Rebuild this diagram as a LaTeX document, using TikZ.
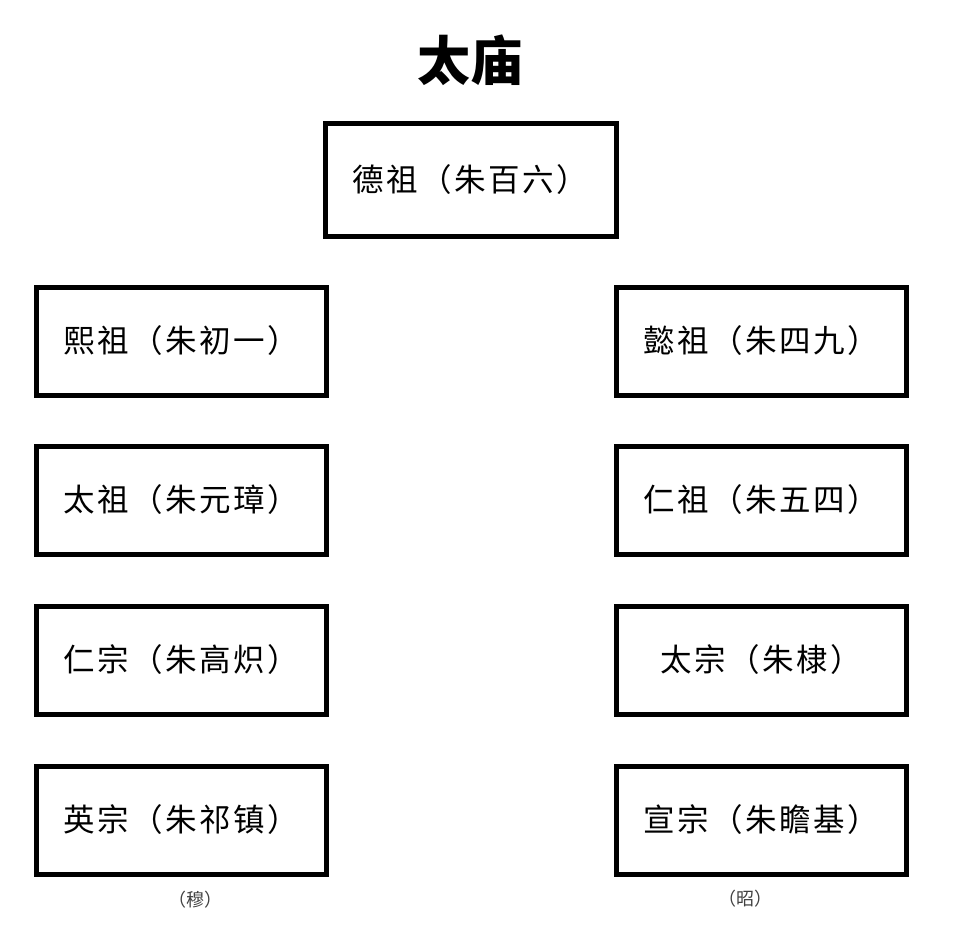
\documentclass[tikz,border=0pt]{standalone}
\usepackage{fontspec}
\newfontfamily\cjk{Noto Sans CJK SC}
\newfontfamily\cjkw[LetterSpace=8]{Noto Sans CJK SC}
\begin{document}
\begin{tikzpicture}[x=1pt,y=-1pt,
  tomb/.style={draw=black,line width=5pt,minimum width=290pt,minimum height=108pt,inner sep=0pt,font=\cjkw\fontsize{31.5}{36}\selectfont},
  side/.style={font=\cjk\fontsize{18}{22}\selectfont,text=black!75}]
\useasboundingbox (0,0) rectangle (960,937);
\node[font=\cjk\bfseries\fontsize{53}{60}\selectfont] (title) at (470,60) {太庙};
\node[tomb,minimum width=291pt,minimum height=113pt] (dezu) at (470.5,179.5) {德祖（朱百六）};
\node[tomb] (xizu) at (181,341) {熙祖（朱初一）};
\node[tomb] (taizu) at (181,500) {太祖（朱元璋）};
\node[tomb] (renzong) at (181,660) {仁宗（朱高炽）};
\node[tomb] (yingzong) at (181,820) {英宗（朱祁镇）};
\node[tomb] (yizu) at (761.5,341) {懿祖（朱四九）};
\node[tomb] (renzu) at (761.5,500) {仁祖（朱五四）};
\node[tomb] (taizong) at (761.5,660) {太宗（朱棣）};
\node[tomb] (xuanzong) at (761.5,820) {宣宗（朱瞻基）};
\node[side] (mu) at (195,900) {（穆）};
\node[side] (zhao) at (745,899) {（昭）};
\end{tikzpicture}
\end{document}
